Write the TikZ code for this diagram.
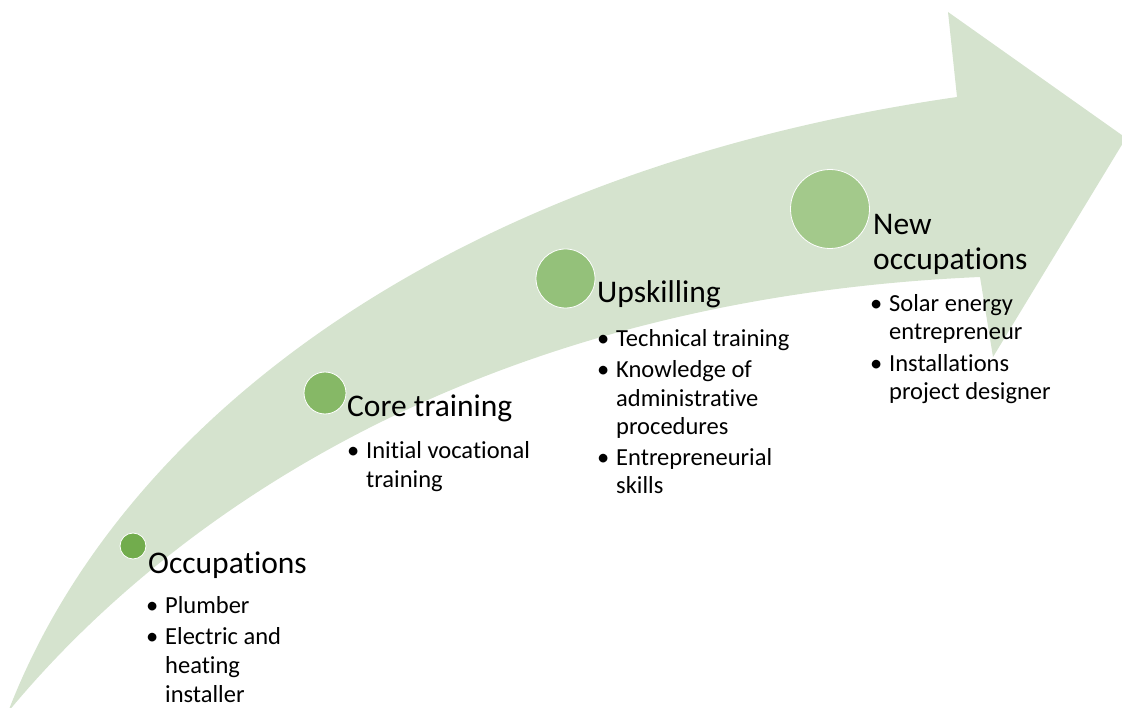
\documentclass[tikz,border=0pt]{standalone}
\usepackage{fontspec}
\setmainfont{Carlito}[Ligatures={NoCommon,NoContextual}]
\definecolor{arrowfill}{HTML}{D5E3CE}
\definecolor{cA}{HTML}{72AC4D}
\definecolor{cB}{HTML}{86B866}
\definecolor{cC}{HTML}{94C17A}
\definecolor{cD}{HTML}{A3C98B}
\begin{document}
\begin{tikzpicture}[x=1pt,y=-1pt,
  dot/.style={circle, draw=white, line width=0.8pt, inner sep=0pt},
  ttl/.style={anchor=base west, inner sep=0pt, font=\fontsize{31.5}{34.6}\selectfont, text=black},
  itm/.style={anchor=base west, inner sep=0pt, font=\fontsize{24.5}{29}\selectfont, text=black},
  bul/.style={itm, execute at begin node={\llap{•\hspace{7pt}}}}]
\useasboundingbox (0,0) rectangle (1122,708);
\clip (0,0) rectangle (1122,708);
% big curved arrow
\fill[arrowfill] (8,712) .. controls (120,420) and (450,170) .. (957,97)
  -- (948,12) -- (1126,138) -- (993,357) -- (980,277)
  .. controls (450,300) and (150,540) .. (8,712) -- cycle;
% circles
\node[dot, fill=cA, minimum size=26pt] (d1) at (133,546) {};
\node[dot, fill=cB, minimum size=42pt] (d2) at (325,393) {};
\node[dot, fill=cC, minimum size=59pt] (d3) at (565.5,278.5) {};
\node[dot, fill=cD, minimum size=79pt] (d4) at (830,209) {};
% group 1
\node[ttl] (t1) at (148,573) {Occupations};
\node[bul] (b1a) at (165,613) {Plumber};
\node[bul] (b1b) at (165,644) {Electric and};
\node[itm] (b1c) at (165,673) {heating};
\node[itm] (b1d) at (165,702) {installer};
% group 2
\node[ttl] (t2) at (347,417) {Core training};
\node[bul] (b2a) at (366,458) {Initial vocational};
\node[itm] (b2b) at (366,487) {training};
% group 3
\node[ttl] (t3) at (597,303) {Upskilling};
\node[bul] (b3a) at (616,347) {Technical training};
\node[bul] (b3b) at (616,378) {Knowledge of};
\node[itm] (b3c) at (616,407) {administrative};
\node[itm] (b3d) at (616,435) {procedures};
\node[bul] (b3e) at (616,465) {Entrepreneurial};
\node[itm] (b3f) at (616,493) {skills};
% group 4
\node[ttl] (t4a) at (873,235) {New};
\node[ttl] (t4b) at (873,270) {occupations};
\node[bul] (b4a) at (889,312) {Solar energy};
\node[itm] (b4b) at (889,340) {entrepreneur};
\node[bul] (b4c) at (889,372) {Installations};
\node[itm] (b4d) at (889,400) {project designer};
\end{tikzpicture}
\end{document}
